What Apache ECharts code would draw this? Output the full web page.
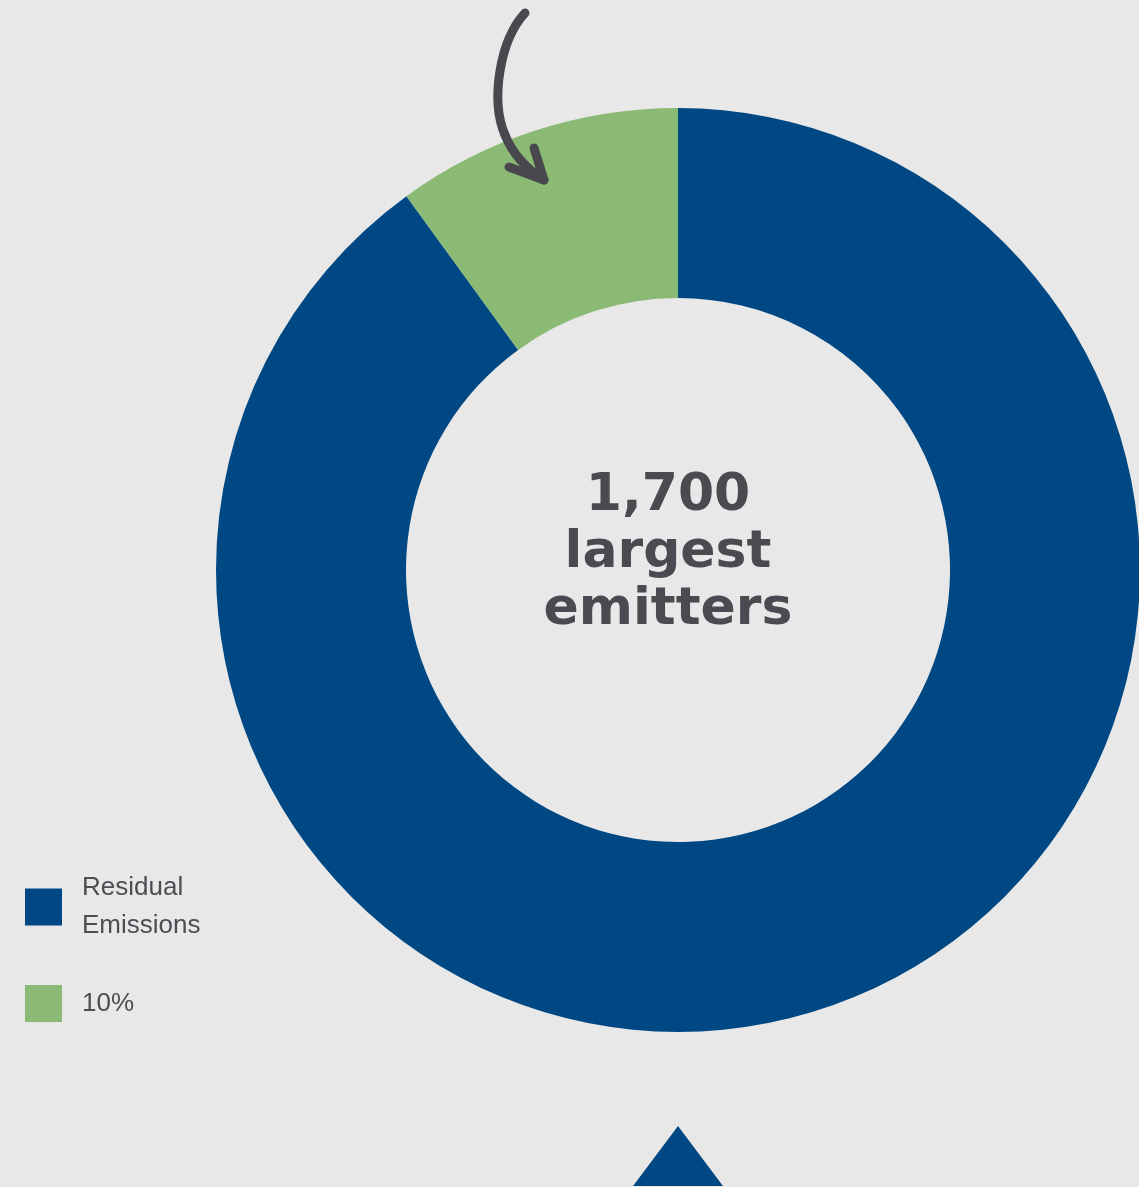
<!DOCTYPE html>
<html>
<head>
<meta charset="utf-8">
<script src="https://cdn.jsdelivr.net/npm/echarts@6/dist/echarts.min.js"></script>
<style>
  html, body { margin: 0; padding: 0; background: #e8e8e8; }
  #chart { width: 1139px; height: 1187px; }
</style>
</head>
<body>
<div id="chart"></div>
<script>
// data
var categories = ['Residual\nEmissions', '10%'];
var values = [90, 10];
var colors = ['#004883', '#8aba74'];
var centerLabel = '1,700\nlargest\nemitters';

var chart = echarts.init(document.getElementById('chart'));

var pieData = categories.map(function (name, i) {
  return { name: name, value: values[i], itemStyle: { color: colors[i] } };
});

var legendText = {
  color: '#4d4d53',
  fontSize: 26,
  fontFamily: 'Liberation Sans, Arial, sans-serif',
  lineHeight: 38,
  padding: [0, 0, 0, 15]
};

var arrowStyle = { stroke: '#48484e', lineWidth: 9, fill: null, lineCap: 'round', lineJoin: 'round' };

var option = {
  backgroundColor: '#e8e8e8',
  animation: false,
  legend: [
    {
      data: [categories[0]],
      orient: 'vertical',
      left: 20,
      top: 864,
      icon: 'rect',
      itemWidth: 37,
      itemHeight: 37,
      selectedMode: false,
      textStyle: legendText
    },
    {
      data: [categories[1]],
      orient: 'vertical',
      left: 20,
      top: 980,
      icon: 'rect',
      itemWidth: 37,
      itemHeight: 37,
      selectedMode: false,
      textStyle: Object.assign({}, legendText, { lineHeight: 37 })
    }
  ],
  graphic: [
    // center text
    {
      type: 'text',
      x: 668,
      y: 553,
      z: 100,
      style: {
        text: centerLabel,
        fill: '#4a4a50',
        font: 'bold 52px "DejaVu Sans", sans-serif',
        lineHeight: 57,
        align: 'center',
        verticalAlign: 'middle'
      }
    },
    // hand-drawn arrow
    {
      type: 'bezierCurve',
      z: 100,
      shape: { x1: 525, y1: 13, cpx1: 500, cpy1: 40, cpx2: 490, cpy2: 100, x2: 505, y2: 135 },
      style: arrowStyle
    },
    {
      type: 'bezierCurve',
      z: 100,
      shape: { x1: 505, y1: 135, cpx1: 512, cpy1: 152, cpx2: 525, cpy2: 168, x2: 544, y2: 180 },
      style: arrowStyle
    },
    {
      type: 'polyline',
      z: 100,
      shape: { points: [[509, 167], [544, 180], [534, 148]] },
      style: arrowStyle
    },
    // bottom triangle
    {
      type: 'polygon',
      z: 100,
      shape: { points: [[633, 1186], [678, 1126], [723, 1186]] },
      style: { fill: '#004883' }
    }
  ],
  series: [
    {
      type: 'pie',
      center: [678, 570],
      radius: [272, 462],
      startAngle: 90,
      clockwise: true,
      label: { show: false },
      labelLine: { show: false },
      emphasis: { disabled: true },
      itemStyle: { borderWidth: 0 },
      data: pieData
    }
  ]
};

chart.setOption(option);
</script>
</body>
</html>
